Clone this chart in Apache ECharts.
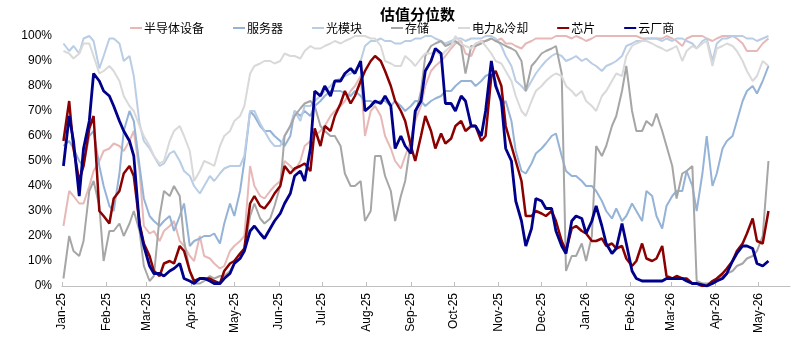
<!DOCTYPE html>
<html><head><meta charset="utf-8">
<script src="https://cdn.jsdelivr.net/npm/echarts@6/dist/echarts.min.js"></script>
<style>html,body{margin:0;padding:0;background:#fff}#c{width:800px;height:340px}</style>
</head><body><div id="c"></div>
<script>
const dates = ['2025-01-02','2025-01-06','2025-01-09','2025-01-13','2025-01-16','2025-01-20','2025-01-23','2025-01-27','2025-01-30',
'2025-02-03','2025-02-06','2025-02-10','2025-02-13','2025-02-17','2025-02-20','2025-02-24','2025-02-27',
'2025-03-03','2025-03-06','2025-03-10','2025-03-13','2025-03-17','2025-03-20','2025-03-24','2025-03-27','2025-03-31',
'2025-04-03','2025-04-07','2025-04-10','2025-04-14','2025-04-17','2025-04-21','2025-04-24','2025-04-28',
'2025-05-01','2025-05-05','2025-05-08','2025-05-12','2025-05-15','2025-05-19','2025-05-22','2025-05-26','2025-05-29',
'2025-06-02','2025-06-05','2025-06-09','2025-06-12','2025-06-16','2025-06-19','2025-06-23','2025-06-26','2025-06-30',
'2025-07-03','2025-07-07','2025-07-10','2025-07-14','2025-07-17','2025-07-21','2025-07-24','2025-07-28','2025-07-31',
'2025-08-04','2025-08-07','2025-08-11','2025-08-14','2025-08-18','2025-08-21','2025-08-25','2025-08-28',
'2025-09-01','2025-09-04','2025-09-08','2025-09-11','2025-09-15','2025-09-18','2025-09-22','2025-09-25','2025-09-29',
'2025-10-02','2025-10-06','2025-10-09','2025-10-13','2025-10-16','2025-10-20','2025-10-23','2025-10-27','2025-10-30',
'2025-11-03','2025-11-06','2025-11-10','2025-11-13','2025-11-17','2025-11-20','2025-11-24','2025-11-27',
'2025-12-01','2025-12-04','2025-12-08','2025-12-11','2025-12-15','2025-12-18','2025-12-22','2025-12-25','2025-12-29',
'2026-01-01','2026-01-05','2026-01-08','2026-01-12','2026-01-15','2026-01-19','2026-01-22','2026-01-26','2026-01-29',
'2026-02-02','2026-02-05','2026-02-09','2026-02-12','2026-02-16','2026-02-19','2026-02-23','2026-02-26',
'2026-03-02','2026-03-05','2026-03-09','2026-03-12','2026-03-16','2026-03-19','2026-03-23','2026-03-26','2026-03-30',
'2026-04-02','2026-04-06','2026-04-09','2026-04-13','2026-04-16','2026-04-20','2026-04-23','2026-04-27','2026-04-30',
'2026-05-04','2026-05-08'];

const seriesNames = ['半导体设备','服务器','光模块','存储','电力&冷却','芯片','云厂商'];

const semi = [24,38,36,33,33,40,46,50,54,55,
57,56,54,58,62,46,24,21,22,18,
22,24,26,18,16,12,10,20,12,11,
9,7,8,14,16,18,20,48,40,36,
35,38,40,42,50,48,46,50,56,58,
60,62,64,68,70,72,74,78,80,84,
60,70,72,68,60,55,50,47,52,58,
66,72,80,86,88,90,92,95,97,98,
93,92,96,98,98,99,98,99,97,97,
96,95,97,98,99,99,99,99,100,100,
100,99,100,99,98,99,100,100,100,100,
100,100,100,100,100,99,99,99,99,99,
100,99,98,96,99,100,100,100,99,98,
99,100,100,100,99,97,94,94,94,97,99];

const server = [56,58,55,50,48,60,62,48,40,32,
30,45,62,70,66,48,35,28,26,24,
26,28,22,28,33,16,18,19,20,20,
21,17,25,33,28,38,50,70,68,64,
62,62,60,58,56,60,70,68,70,68,
72,74,76,78,78,78,77,76,78,76,
74,74,73,74,74,72,74,72,70,72,
74,74,72,74,75,76,78,78,80,82,
82,82,80,82,84,85,82,72,74,66,
54,46,45,49,53,55,57,60,61,52,
46,44,44,42,40,40,38,34,30,27,
31,26,28,33,30,26,38,36,28,23,
32,36,38,38,46,40,30,45,60,40,
45,55,58,60,66,74,78,80,77,82,88];

const optical = [97,94,96,93,99,100,98,87,92,99,
99,97,90,92,84,65,58,55,52,48,
49,53,54,50,46,44,40,37,40,44,
42,45,47,48,48,48,52,70,70,65,
62,58,56,56,60,64,70,66,72,72,
74,76,78,80,82,83,84,85,86,90,
96,98,98,99,98,98,97,97,98,98,
99,99,100,100,99,98,97,98,99,99,
98,99,99,99,100,100,99,96,92,88,
82,80,78,82,85,88,90,92,93,92,
90,91,92,90,91,89,88,86,88,89,
90,92,96,97,98,98,99,99,99,98,
99,98,99,99,98,97,95,98,99,90,
97,99,99,100,100,100,99,99,98,99,100];

const storage = [3,20,14,12,18,38,42,32,10,22,
22,25,20,25,30,22,8,2,4,28,
38,36,40,36,18,6,1,1,2,4,
3,4,4,6,9,11,15,28,33,27,
25,27,32,40,60,64,68,71,73,74,
72,64,62,60,60,56,45,40,40,42,
26,30,52,52,44,38,26,36,42,58,
68,78,92,96,97,98,96,97,98,96,
85,96,96,97,98,99,98,97,96,95,
94,90,78,88,90,93,94,95,96,85,
6,12,12,17,10,20,56,52,56,64,
68,78,88,70,62,62,66,64,69,62,
56,48,35,45,46,48,2,1,1,1,
2,4,5,6,8,9,11,12,14,20,50];

const power = [94,93,91,93,97,97,92,85,86,88,
86,82,76,72,70,64,60,56,52,49,
50,58,62,64,60,54,42,46,50,49,
48,56,60,62,66,68,72,85,88,89,
90,90,89,90,93,92,92,91,94,96,
95,95,96,97,98,97,98,99,100,100,
100,99,99,96,90,89,88,88,92,90,
88,91,93,93,94,92,94,96,100,97,
96,95,97,98,96,93,90,89,86,82,
76,70,68,74,78,80,82,84,85,84,
80,78,76,78,74,72,70,76,78,82,
85,84,92,96,97,98,98,97,96,95,
94,95,96,90,94,96,95,97,98,88,
95,96,97,96,94,90,86,82,84,90,88];

const chip = [58,74,55,42,48,63,68,30,28,25,
35,38,45,48,44,25,17,12,6,4,
9,10,9,16,14,6,2,3,3,3,
2,1,6,9,10,13,15,33,36,32,
31,34,37,40,48,45,47,48,49,46,
63,56,64,62,68,73,78,73,76,82,
86,90,92,90,86,80,74,70,66,56,
50,60,68,62,55,61,57,59,64,66,
62,64,64,58,60,84,86,80,64,56,
50,42,28,28,30,29,28,30,26,18,
14,23,24,22,21,18,18,19,16,17,
15,16,11,8,10,17,11,10,11,16,
4,3,4,3,3,1,1,0,0,2,
3,5,7,10,14,17,21,27,18,17,30];

const cloud = [48,68,58,36,55,66,85,82,78,76,
72,66,62,58,52,24,16,8,5,5,
4,6,7,9,3,2,1,3,3,2,
1,1,3,5,9,11,14,22,24,21,
19,23,26,29,33,37,44,46,42,55,
78,76,80,76,82,82,85,87,85,90,
70,72,74,73,76,72,55,60,56,53,
70,74,86,90,95,93,73,73,70,76,
74,64,64,60,70,90,80,74,55,50,
34,26,16,23,35,34,31,31,22,16,
13,26,28,27,21,26,32,24,17,13,
15,25,17,6,3,2,2,2,2,2,
3,3,3,3,2,1,1,0.5,0,1,
2,3,5,10,13,16,16,15,9,8,10];

const yTickLabels = ['0%','10%','20%','30%','40%','50%','60%','70%','80%','90%','100%'];
const monthNames = ['Jan','Feb','Mar','Apr','May','Jun','Jul','Aug','Sep','Oct','Nov','Dec'];

const valueSets = [semi, server, optical, storage, power, chip, cloud];
const colors = ['#E6B9B8','#95B3D7','#B9CDE5','#A6A6A6','#D9D9D9','#8B0000','#00008B'];
const widths = [2,2,2,2,2,2.5,2.8];

const chart = echarts.init(document.getElementById('c'), null, {renderer:'canvas'});
chart.setOption({
  animation: false,
  backgroundColor: '#fff',
  title: {
    text: '估值分位数', left: 375, top: 2,
    textStyle: {fontSize: 15, fontWeight: 'bold', color: '#000', fontFamily: 'Noto Sans CJK SC'}
  },
  legend: {
    left: 125, top: 17, itemGap: 29, itemWidth: 12, itemHeight: 10,
    icon: 'path://M0,4 L12,4 L12,6 L0,6 Z',
    textStyle: {fontSize: 12, color: '#000', fontFamily: 'Noto Sans CJK SC', padding: [0,0,0,-3]},
    data: seriesNames
  },
  grid: {left: 62, right: 10, top: 36, bottom: 54},
  xAxis: {
    type: 'time',
    min: '2025-01-01', max: '2026-05-23',
    splitNumber: 17,
    minInterval: 28 * 86400000,
    maxInterval: 31 * 86400000,
    axisLine: {lineStyle: {color: '#BFBFBF', width: 1}},
    axisTick: {show: true, inside: true, length: 4, lineStyle: {color: '#BFBFBF'}},
    splitLine: {show: false},
    axisLabel: {
      rotate: 90, margin: 7, fontSize: 12, color: '#000', fontFamily: 'Liberation Sans',
      showMinLabel: true, showMaxLabel: false, hideOverlap: false,
      formatter: function (v) {
        const d = new Date(v);
        return monthNames[d.getMonth()] + '-' + String(d.getFullYear()).slice(2);
      }
    }
  },
  yAxis: {
    type: 'value', min: 0, max: 100, interval: 10,
    axisLine: {show: false}, axisTick: {show: false}, splitLine: {show: false},
    axisLabel: {
      fontSize: 12, color: '#000', fontFamily: 'Liberation Sans', margin: 10,
      formatter: function (v) { return yTickLabels[Math.round(v / 10)]; }
    }
  },
  series: seriesNames.map(function (name, i) {
    return {
      name: name, type: 'line', showSymbol: false, symbol: 'none',
      data: dates.map(function (d, k) { return [d, valueSets[i][k]]; }),
      lineStyle: {color: colors[i], width: widths[i]},
      itemStyle: {color: colors[i]},
      z: 2 + i
    };
  })
});
</script>
</body></html>
